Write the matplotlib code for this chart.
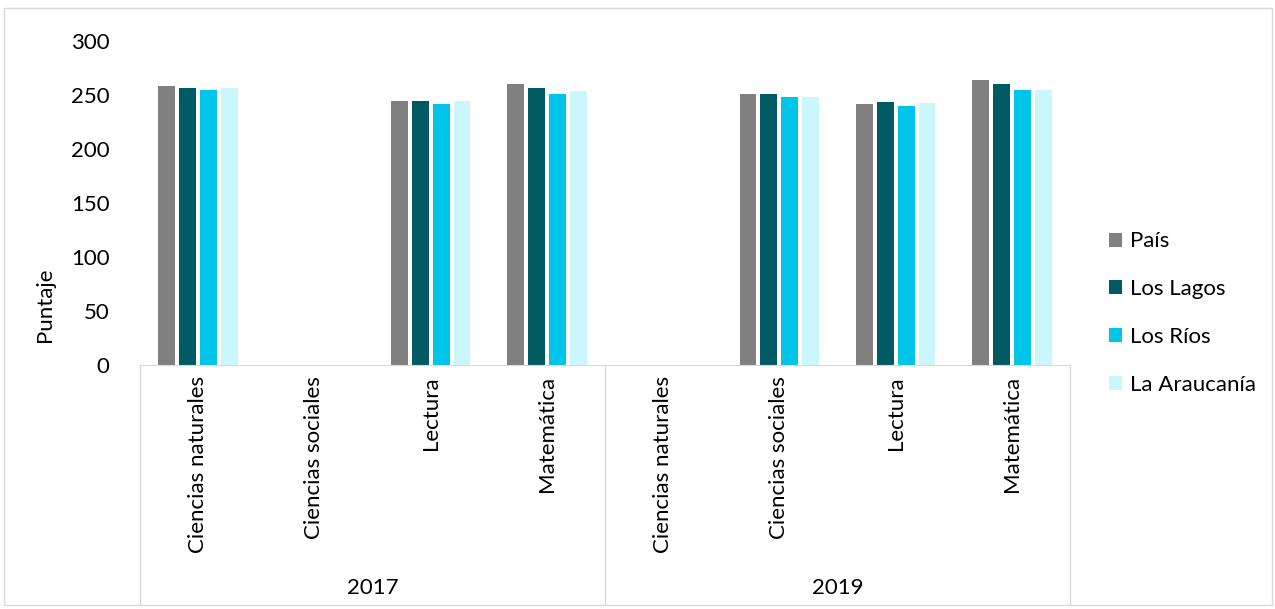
import numpy as np
import matplotlib.pyplot as plt
from matplotlib.transforms import blended_transform_factory

plt.rcParams['font.family'] = ['Lato', 'DejaVu Sans']

# data
years = ['2017', '2019']
subjects = ['Ciencias naturales', 'Ciencias sociales', 'Lectura', 'Matemática']
series = ['País', 'Los Lagos', 'Los Ríos', 'La Araucanía']
colors = ['#808080', '#005A64', '#00C5EA', '#C9F7FC']

# one row per series, columns: 2017 (4 subjects) then 2019 (4 subjects); nan = no data
pais = [258.5, np.nan, 244.5, 260.5, np.nan, 251, 241.5, 263.5]
los_lagos = [256.5, np.nan, 244.5, 256.5, np.nan, 251, 243.5, 260.5]
los_rios = [254.5, np.nan, 241.5, 251, np.nan, 248.5, 239.5, 254.5]
araucania = [256.5, np.nan, 244.5, 253.5, np.nan, 248.5, 242.5, 254.5]
values = [pais, los_lagos, los_rios, araucania]

fs = 16

fig = plt.figure(figsize=(12.75, 6.09), dpi=100)
ax = fig.add_axes([140 / 1275, 1 - 365 / 609, 930 / 1275, 324 / 609])

n = len(years) * len(subjects)
x = np.arange(n)
w = 0.145
step = 0.18
for i, (name, vals) in enumerate(zip(series, values)):
    ax.bar(x + (i - 1.5) * step, vals, width=w, color=colors[i], label=name)

ax.set_xlim(-0.5, n - 0.5)
ax.set_ylim(0, 300)
ax.set_yticks(range(0, 301, 50))
ax.tick_params(axis='y', length=0, labelsize=fs, pad=22)
ax.set_xticks([])
for s in ['top', 'right', 'left']:
    ax.spines[s].set_visible(False)
ax.spines['bottom'].set_color('#D9D9D9')

# multi-level category axis
tr = blended_transform_factory(ax.transData, fig.transFigure)
labels = subjects * len(years)
for xi, lab in zip(x, labels):
    ax.text(xi, 1 - 376 / 609, lab, transform=tr, rotation=90,
            ha='center', va='top', fontsize=fs)
for k, yr in enumerate(years):
    ax.text(k * 4 + 1.5, 1 - 588 / 609, yr, transform=tr,
            ha='center', va='center', fontsize=fs)
for b in [-0.5, 3.5, 7.5]:
    ax.plot([b, b], [1 - 365 / 609, 1 - 605 / 609], transform=tr,
            color='#D9D9D9', lw=1, clip_on=False)

fig.text(45 / 1275, 1 - 305 / 609, 'Puntaje', rotation=90,
         ha='center', va='center', fontsize=fs)

ax.legend(loc='center left', bbox_to_anchor=(1.02, 0.16), frameon=False,
          fontsize=fs, handlelength=0.6, handleheight=0.6,
          handletextpad=0.35, labelspacing=1.25)

# chart border
fig.patches.append(plt.Rectangle((4 / 1275, 4 / 609), 1268 / 1275, 597 / 609,
                                 transform=fig.transFigure, fill=False,
                                 edgecolor='#D9D9D9', lw=1))

fig.savefig('out.png', dpi=100)
